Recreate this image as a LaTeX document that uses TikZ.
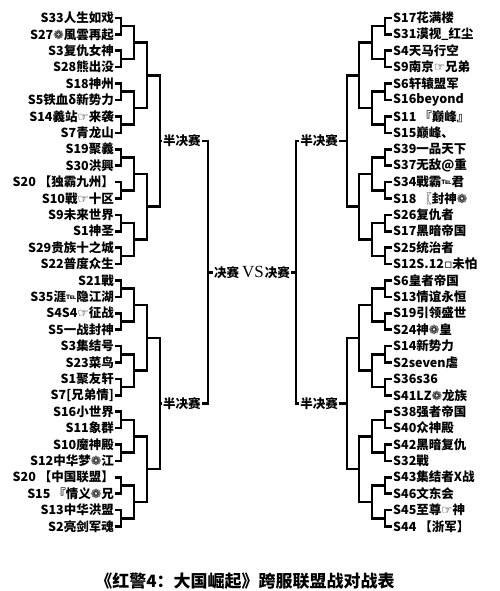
\documentclass[tikz,border=0pt]{standalone}
\usepackage{fontspec}
\newfontfamily\cjk{Noto Sans CJK SC}
\newfontfamily\sy{DejaVu Sans}
\newfontfamily\vsfont{Liberation Serif}
\newcommand{\s}[1]{{\sy\bfseries #1}}
\newcommand{\tel}{{\sy\bfseries\fontsize{8}{8}\selectfont\raisebox{2.5pt}{℡}}}
\tikzset{
  ent/.style={font=\cjk\bfseries\fontsize{12.5}{14}\selectfont, inner sep=1pt},
  lent/.style={ent, anchor=east},
  rent/.style={ent, anchor=west},
  br/.style={line width=2.6pt, line join=miter},
  lbl/.style={ent},
}
\begin{document}
\begin{tikzpicture}[x=1pt,y=-1pt]
\useasboundingbox[fill=white] (0,0) rectangle (500,591);
% ---------- left entries ----------
\node[lent] (L0)  at (115,18.0)  {S33人生如戏};
\node[lent] (L1)  at (115,34.4)  {S27\s{❁}風雲再起};
\node[lent] (L2)  at (115,50.8)  {S3复仇女神};
\node[lent] (L3)  at (115,67.2)  {S28熊出没};
\node[lent] (L4)  at (115,83.6)  {S18神州};
\node[lent] (L5)  at (115,100.0) {S5铁血δ新势力};
\node[lent] (L6)  at (115,116.4) {S14義站\s{☞}来袭};
\node[lent] (L7)  at (115,132.8) {S7青龙山};
\node[lent] (L8)  at (115,149.2) {S19聚義};
\node[lent] (L9)  at (115,165.6) {S30洪興};
\node[lent] (L10) at (115,182.0) {S20 【独霸九州】};
\node[lent] (L11) at (115,198.4) {S10戰\s{☞}十区};
\node[lent] (L12) at (115,214.8) {S9未来世界};
\node[lent] (L13) at (115,231.2) {S1神圣};
\node[lent] (L14) at (115,247.6) {S29贵族十之城};
\node[lent] (L15) at (115,264.0) {S22普度众生};
\node[lent] (L16) at (115,280.4) {S21戰};
\node[lent] (L17) at (115,296.8) {S35涯\tel 隐江湖};
\node[lent] (L18) at (115,313.2) {S4S4\s{☞}征战};
\node[lent] (L19) at (115,329.6) {S5一战封神};
\node[lent] (L20) at (115,346.0) {S3集结号};
\node[lent] (L21) at (115,362.4) {S23菜鸟};
\node[lent] (L22) at (115,378.8) {S1聚友轩};
\node[lent] (L23) at (115,395.2) {S7[兄弟情]};
\node[lent] (L24) at (115,411.6) {S16小世界};
\node[lent] (L25) at (115,428.0) {S11象群};
\node[lent] (L26) at (115,444.4) {S10魔神殿};
\node[lent] (L27) at (115,460.8) {S12中华梦\s{❁}江};
\node[lent] (L28) at (115,477.2) {S20 【中国联盟】};
\node[lent] (L29) at (115,493.6) {S15 『情义\s{❁}兄};
\node[lent] (L30) at (115,510.0) {S13中华洪盟};
\node[lent] (L31) at (115,526.4) {S2亮剑军魂};
% ---------- right entries ----------
\node[rent] (R0)  at (392,18.0)  {S17花满楼};
\node[rent] (R1)  at (392,34.4)  {S31漠视\_红尘};
\node[rent] (R2)  at (392,50.8)  {S4天马行空};
\node[rent] (R3)  at (392,67.2)  {S9南京\s{☞}兄弟};
\node[rent] (R4)  at (392,83.6)  {S6轩辕盟军};
\node[rent] (R5)  at (392,100.0) {S16beyond};
\node[rent] (R6)  at (392,116.4) {S11 『巅峰』};
\node[rent] (R7)  at (392,132.8) {S15巅峰、};
\node[rent] (R8)  at (392,149.2) {S39一品天下};
\node[rent] (R9)  at (392,165.6) {S37无敌@重};
\node[rent] (R10) at (392,182.0) {S34戰霸\tel 君};
\node[rent] (R11) at (392,198.4) {S18 〖封神\s{❁}};
\node[rent] (R12) at (392,214.8) {S26复仇者};
\node[rent] (R13) at (392,231.2) {S17黑暗帝国};
\node[rent] (R14) at (392,247.6) {S25统治者};
\node[rent] (R15) at (392,264.0) {S12S.12\s{▫}未怕};
\node[rent] (R16) at (392,280.4) {S6皇者帝国};
\node[rent] (R17) at (392,296.8) {S13情谊永恒};
\node[rent] (R18) at (392,313.2) {S19引领盛世};
\node[rent] (R19) at (392,329.6) {S24神\s{❁}皇};
\node[rent] (R20) at (392,346.0) {S14新势力};
\node[rent] (R21) at (392,362.4) {S2seven虐};
\node[rent] (R22) at (392,378.8) {S36s36};
\node[rent] (R23) at (392,395.2) {S41LZ\s{❁}龙族};
\node[rent] (R24) at (392,411.6) {S38强者帝国};
\node[rent] (R25) at (392,428.0) {S40众神殿};
\node[rent] (R26) at (392,444.4) {S42黑暗复仇};
\node[rent] (R27) at (392,460.8) {S32戰};
\node[rent] (R28) at (392,477.2) {S43集结者X战};
\node[rent] (R29) at (392,493.6) {S46文东会};
\node[rent] (R30) at (392,510.0) {S45至尊\s{☞}神};
\node[rent] (R31) at (392,526.4) {S44 【浙军】};
% ---------- brackets ----------
\foreach \k in {0,...,15}{
  \pgfmathtruncatemacro\a{2*\k}\pgfmathtruncatemacro\b{2*\k+1}
  \coordinate (la1-\k) at (121,{26.2+32.8*\k});
  \coordinate (ra1-\k) at (385,{26.2+32.8*\k});
  \draw[br] (L\a.east) -| (la1-\k) |- (L\b.east);
  \draw[br] (R\a.west) -| (ra1-\k) |- (R\b.west);
}
\foreach \k in {0,...,7}{
  \pgfmathtruncatemacro\a{2*\k}\pgfmathtruncatemacro\b{2*\k+1}
  \coordinate (la2-\k) at (134,{42.6+65.6*\k});
  \coordinate (ra2-\k) at (372,{42.6+65.6*\k});
  \draw[br] (la1-\a) -| (la2-\k) |- (la1-\b);
  \draw[br] (ra1-\a) -| (ra2-\k) |- (ra1-\b);
}
\foreach \k in {0,...,3}{
  \pgfmathtruncatemacro\a{2*\k}\pgfmathtruncatemacro\b{2*\k+1}
  \coordinate (la3-\k) at (147,{75.4+131.2*\k});
  \coordinate (ra3-\k) at (359,{75.4+131.2*\k});
  \draw[br] (la2-\a) -| (la3-\k) |- (la2-\b);
  \draw[br] (ra2-\a) -| (ra3-\k) |- (ra2-\b);
}
\foreach \k in {0,1}{
  \pgfmathtruncatemacro\a{2*\k}\pgfmathtruncatemacro\b{2*\k+1}
  \coordinate (la4-\k) at (160,{141+262.4*\k});
  \coordinate (ra4-\k) at (347,{141+262.4*\k});
  \draw[br] (la3-\a) -| (la4-\k) |- (la3-\b);
  \draw[br] (ra3-\a) -| (ra4-\k) |- (ra3-\b);
  \node[lbl, anchor=west] (ls-\k) at (162,{141+262.4*\k}) {半决赛};
  \node[lbl, anchor=east] (rs-\k) at (339,{141+262.4*\k}) {半决赛};
  \draw[br] (la4-\k) -- (ls-\k.west);
  \draw[br] (ra4-\k) -- (rs-\k.east);
}
\coordinate (lf) at (208,272.2);
\coordinate (rf) at (296,272.2);
\draw[br] (ls-0.east) -| (lf) |- (ls-1.east);
\draw[br] (rs-0.west) -| (rf) |- (rs-1.west);
\node[lbl, anchor=west] (lfin) at (213,272.2) {决赛};
\node[lbl, anchor=east] (rfin) at (291,272.2) {决赛};
\draw[br] (lf) -- (lfin.west);
\draw[br] (rf) -- (rfin.east);
\node[font=\vsfont\fontsize{17}{18}\selectfont, inner sep=0pt] (vs) at (253,272.2) {VS};
% ---------- title ----------
\node[font=\cjk\bfseries\fontsize{17}{19}\selectfont, inner sep=0pt] (title) at (245,581) {《红警4：大国崛起》跨服联盟战对战表};
\end{tikzpicture}
\end{document}
